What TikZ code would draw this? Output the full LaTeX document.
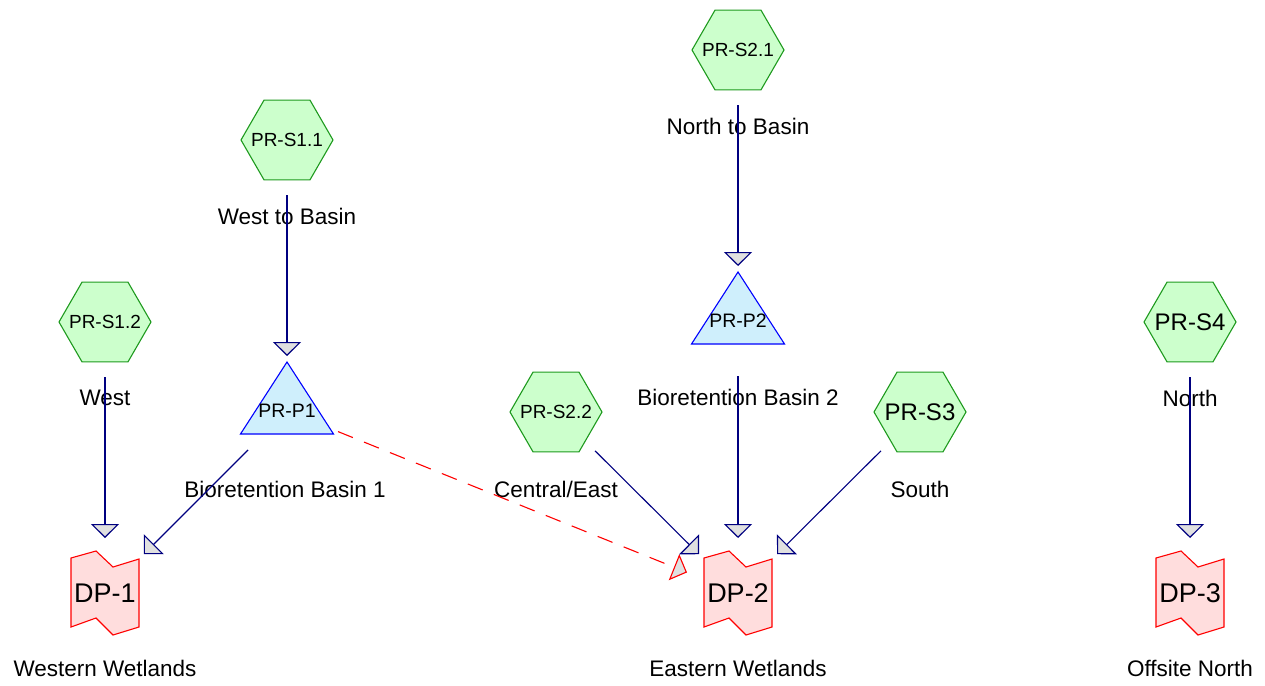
\documentclass[tikz,border=0pt]{standalone}
\usepackage{fontspec}
\setmainfont{Liberation Sans}
\usetikzlibrary{shapes.geometric,arrows.meta,calc}

\definecolor{subfill}{HTML}{CCFFCC}
\definecolor{subline}{HTML}{1E9A1E}
\definecolor{pondfill}{HTML}{CFEFFC}
\definecolor{pondline}{HTML}{0000FF}
\definecolor{linkfill}{HTML}{FFDDDD}
\definecolor{linkline}{HTML}{FF0000}
\definecolor{flowc}{HTML}{000080}
\definecolor{headfill}{HTML}{E0E0E0}

\tikzset{
  x=1pt, y=-1pt,
  every node/.style={inner sep=0pt, text=black},
  subcat/.style={regular polygon, regular polygon sides=6, minimum size=92pt,
    draw=subline, fill=subfill, line width=1.1pt, font=\fontsize{19}{22}\selectfont},
  bigsub/.style={subcat, font=\fontsize{24}{28}\selectfont},
  pondtext/.style={font=\fontsize{19.5}{22}\selectfont},
  pondshape/.style={draw=pondline, fill=pondfill, line width=1.1pt, line join=miter},
  linkshape/.style={draw=linkline, fill=linkfill, line width=1.1pt},
  linktext/.style={font=\fontsize{27}{31}\selectfont},
  caption/.style={font=\fontsize{22.5}{27}\selectfont},
  flow/.style={draw=flowc, line width=1.1pt, shorten <=55pt, shorten >=55pt,
    -{Triangle[length=14pt, width=28pt, fill=headfill]}},
  overflow/.style={flow, draw=linkline, dash pattern=on 16pt off 12pt},
}

% zero-width label so the hexagon keeps its set size
\newcommand\hexlabel[1]{\makebox[0pt]{#1}}
% pond triangle and wavy link outline around a centre coordinate
\newcommand\pondtri[1]{%
  \path[pondshape] ($(#1)+(0,-49)$) -- ($(#1)+(46.5,23)$) -- ($(#1)+(-46.5,23)$) -- cycle;}
\newcommand\linkwave[1]{%
  \path[linkshape] ($(#1)+(-34,-35)$) -- ($(#1)+(-9,-42)$) -- ($(#1)+(8,-26)$)
    -- ($(#1)+(34,-34)$) -- ($(#1)+(34,34)$) -- ($(#1)+(8,42)$)
    -- ($(#1)+(-9,25)$) -- ($(#1)+(-34,34)$) -- cycle;}

\begin{document}
\begin{tikzpicture}
\useasboundingbox (0,0) rectangle (1265,685);

% subcatchments
\node[subcat] (s11) at (287,140) {\hexlabel{PR-S1.1}};
\node[subcat] (s21) at (738,50) {\hexlabel{PR-S2.1}};
\node[subcat] (s12) at (105,322) {\hexlabel{PR-S1.2}};
\node[subcat] (s22) at (556,412) {\hexlabel{PR-S2.2}};
\node[bigsub] (s3) at (920,412) {\hexlabel{PR-S3}};
\node[bigsub] (s4) at (1190,322) {\hexlabel{PR-S4}};

% ponds
\coordinate (p1c) at (287,411);
\coordinate (p2c) at (738,321);
\pondtri{p1c}
\pondtri{p2c}
\node[pondtext] (p1) at (p1c) {PR-P1};
\node[pondtext] (p2) at (p2c) {PR-P2};

% links
\coordinate (dp1c) at (105,593);
\coordinate (dp2c) at (738,593);
\coordinate (dp3c) at (1190,593);
\linkwave{dp1c}
\linkwave{dp2c}
\linkwave{dp3c}
\node[linktext] (dp1) at (dp1c) {DP-1};
\node[linktext] (dp2) at (dp2c) {DP-2};
\node[linktext] (dp3) at (dp3c) {DP-3};

% captions
\node[caption] at ($(s11)+(0,76)$) {West to Basin};
\node[caption] at ($(s21)+(0,76)$) {North to Basin};
\node[caption] at ($(s12)+(0,76)$) {West};
\node[caption] at ($(s22)+(0,77)$) {Central/East};
\node[caption] at ($(s3)+(0,77)$) {South};
\node[caption] at ($(s4)+(0,76)$) {North};
\node[caption] at ($(p1)+(-2,78)$) {Bioretention Basin 1};
\node[caption] at ($(p2)+(0,76)$) {Bioretention Basin 2};
\node[caption] at ($(dp1)+(0,75)$) {Western Wetlands};
\node[caption] at ($(dp2)+(0,75)$) {Eastern Wetlands};
\node[caption] at ($(dp3)+(0,75)$) {Offsite North};

% flows
\draw[flow] (s11.center) -- (p1.center);
\draw[flow] (s21.center) -- (p2.center);
\draw[flow] (s12.center) -- (dp1.center);
\draw[flow] (p1.center) -- (dp1.center);
\draw[overflow] (p1.center) -- (dp2.center);
\draw[flow] (s22.center) -- (dp2.center);
\draw[flow] (p2.center) -- (dp2.center);
\draw[flow] (s3.center) -- (dp2.center);
\draw[flow] (s4.center) -- (dp3.center);
\end{tikzpicture}
\end{document}
